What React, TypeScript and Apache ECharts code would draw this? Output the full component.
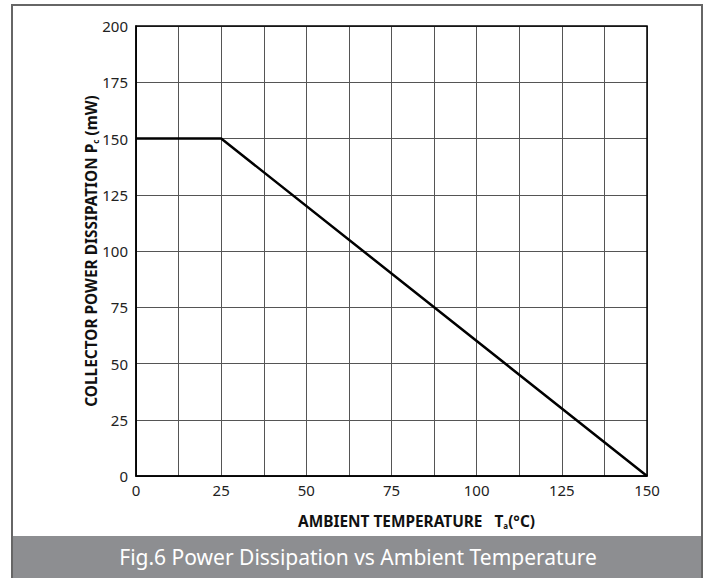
import React, { useEffect, useRef } from "react";
import * as echarts from "echarts";

const tempPoints = [0, 25, 150];
const powerPoints = [150, 150, 0];
const xTicks = [0, 25, 50, 75, 100, 125, 150];
const yTicks = [0, 25, 50, 75, 100, 125, 150, 175, 200];
const captionText = "Fig.6 Power Dissipation vs Ambient Temperature";

export default function App() {
  const ref = useRef<HTMLDivElement>(null);
  useEffect(() => {
    const chart = echarts.init(ref.current!, null, { renderer: "svg" });
    const font = "'Noto Sans', sans-serif";
    chart.setOption({
      animation: false,
      backgroundColor: "#ffffff",
      grid: { left: 136, top: 26, width: 511, height: 450, containLabel: false },
      xAxis: {
        type: "value",
        min: 0,
        max: 150,
        interval: 12.5,
        axisLine: { show: true, lineStyle: { color: "#000", width: 1.5 } },
        axisTick: { show: false },
        splitLine: { show: true, lineStyle: { color: "#555", width: 1 } },
        axisLabel: {
          fontFamily: font,
          fontSize: 15,
          color: "#222",
          margin: 6,
          formatter: (v: number) => (xTicks.includes(v) ? String(v) : ""),
        },
      },
      yAxis: {
        type: "value",
        min: 0,
        max: 200,
        interval: 25,
        axisLine: { show: true, lineStyle: { color: "#000", width: 1.5 } },
        axisTick: { show: false },
        splitLine: { show: true, lineStyle: { color: "#555", width: 1 } },
        axisLabel: {
          fontFamily: font,
          fontSize: 15,
          color: "#222",
          margin: 8,
          formatter: (v: number) => (yTicks.includes(v) ? String(v) : ""),
        },
      },
      graphic: [
        {
          type: "rect",
          shape: { x: 136, y: 26, width: 511, height: 450 },
          style: { fill: "none", stroke: "#000", lineWidth: 1.5 },
          z: 100,
        },
        {
          type: "rect",
          shape: { x: 12, y: 536, width: 690, height: 42 },
          style: { fill: "#8d8e91" },
        },
        {
          type: "rect",
          shape: { x: 12, y: 5, width: 690, height: 580 },
          style: { fill: "none", stroke: "#666", lineWidth: 2 },
        },
        {
          type: "text",
          x: 358,
          y: 557,
          style: {
            text: captionText,
            fontFamily: font,
            fontSize: 21,
            fill: "#ffffff",
            align: "center",
            verticalAlign: "middle",
          },
        },
        {
          type: "text",
          x: 298,
          y: 521,
          style: {
            text: "{b|AMBIENT TEMPERATURE   T}{s|a}{b|(°C)}",
            fontFamily: font,
            align: "left",
            verticalAlign: "middle",
            rich: {
              b: { fontFamily: font, fontSize: 15.4, fontWeight: "bold", fill: "#111" },
              s: { fontFamily: font, fontSize: 8, fontWeight: "bold", fill: "#111", padding: [9, 0, 0, 0] },
            },
          },
        },
        {
          type: "text",
          x: 91,
          y: 251,
          rotation: Math.PI / 2,
          style: {
            text: "{b|COLLECTOR POWER DISSIPATION P}{s|c}{b| (mW)}",
            fontFamily: font,
            align: "center",
            verticalAlign: "middle",
            rich: {
              b: { fontFamily: font, fontSize: 15.4, fontWeight: "bold", fill: "#111" },
              s: { fontFamily: font, fontSize: 8, fontWeight: "bold", fill: "#111", padding: [9, 0, 0, 0] },
            },
          },
        },
      ],
      series: [
        {
          type: "line",
          data: tempPoints.map((t, i) => [t, powerPoints[i]]),
          symbol: "none",
          lineStyle: { color: "#000", width: 2.5 },
          z: 10,
        },
      ],
    });
    return () => chart.dispose();
  }, []);
  return (
    <div
      ref={ref}
      style={{ position: "fixed", left: 0, top: 0, width: 712, height: 578, background: "#fff" }}
    />
  );
}
